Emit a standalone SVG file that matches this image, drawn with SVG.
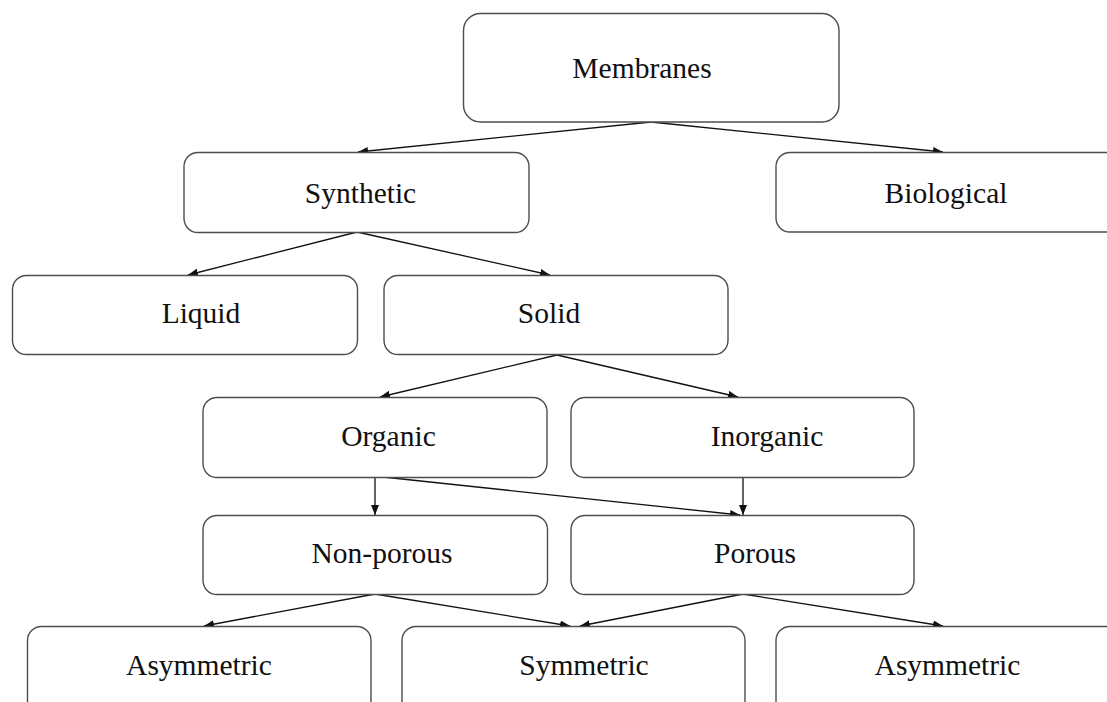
<svg xmlns="http://www.w3.org/2000/svg" width="1107" height="702" viewBox="0 0 1107 702">
<style>
.box{fill:#fff;stroke:#4d4d4d;stroke-width:1.4}
.lbl{font-family:"Liberation Serif","Times New Roman",serif;font-size:29.5px;fill:#111;text-anchor:middle}
.edge{stroke:#111;stroke-width:1.3;fill:none;marker-end:url(#ah)}
</style>
<defs>
<marker id="ah" viewBox="0 0 10 8" refX="10" refY="4" markerWidth="10" markerHeight="8" markerUnits="userSpaceOnUse" orient="auto">
<path d="M0,0 L10,4 L0,8 Z" fill="#111"/>
</marker>
</defs>
<rect width="1107" height="702" fill="#fff"/>
<g id="connectors">
<line class="edge" x1="651" y1="122" x2="358" y2="152"/>
<line class="edge" x1="651" y1="122" x2="943" y2="152"/>
<line class="edge" x1="357" y1="232" x2="188" y2="275"/>
<line class="edge" x1="357" y1="232" x2="550" y2="275"/>
<line class="edge" x1="557" y1="355" x2="380" y2="397"/>
<line class="edge" x1="557" y1="355" x2="738" y2="397"/>
<line class="edge" x1="375" y1="477" x2="375" y2="515"/>
<line class="edge" x1="383" y1="477" x2="740" y2="515"/>
<line class="edge" x1="743" y1="477" x2="743" y2="515"/>
<line class="edge" x1="375" y1="594" x2="204" y2="626"/>
<line class="edge" x1="375" y1="594" x2="570" y2="626"/>
<line class="edge" x1="743" y1="594" x2="580" y2="626"/>
<line class="edge" x1="743" y1="594" x2="943" y2="626"/>
</g>
<g id="membranes"><rect class="box" x="463.5" y="13.5" width="375.5" height="108.5" rx="17"/><text class="lbl" x="642" y="78">Membranes</text></g>
<g id="synthetic"><rect class="box" x="184" y="152.5" width="345" height="80" rx="14"/><text class="lbl" x="360.5" y="203">Synthetic</text></g>
<g id="biological"><rect class="box" x="776" y="152.5" width="345" height="79.5" rx="14"/><text class="lbl" x="946" y="203">Biological</text></g>
<g id="liquid"><rect class="box" x="12.5" y="275.5" width="345" height="79" rx="14"/><text class="lbl" x="201" y="323">Liquid</text></g>
<g id="solid"><rect class="box" x="384" y="275.5" width="344" height="79" rx="14"/><text class="lbl" x="549" y="323">Solid</text></g>
<g id="organic"><rect class="box" x="203" y="397.5" width="344" height="80" rx="14"/><text class="lbl" x="388.5" y="446">Organic</text></g>
<g id="inorganic"><rect class="box" x="571" y="397.5" width="343" height="80" rx="14"/><text class="lbl" x="767" y="446">Inorganic</text></g>
<g id="nonporous"><rect class="box" x="203" y="515.5" width="344.5" height="79" rx="14"/><text class="lbl" x="382" y="563">Non-porous</text></g>
<g id="porous"><rect class="box" x="571" y="515.5" width="343" height="79" rx="14"/><text class="lbl" x="755" y="563">Porous</text></g>
<g id="asymmetric1"><rect class="box" x="27.5" y="626.5" width="343.5" height="100" rx="14"/><text class="lbl" x="199" y="675">Asymmetric</text></g>
<g id="symmetric"><rect class="box" x="402" y="626.5" width="343" height="100" rx="14"/><text class="lbl" x="584" y="675">Symmetric</text></g>
<g id="asymmetric2"><rect class="box" x="776" y="626.5" width="345" height="100" rx="14"/><text class="lbl" x="947.5" y="675">Asymmetric</text></g>
</svg>
